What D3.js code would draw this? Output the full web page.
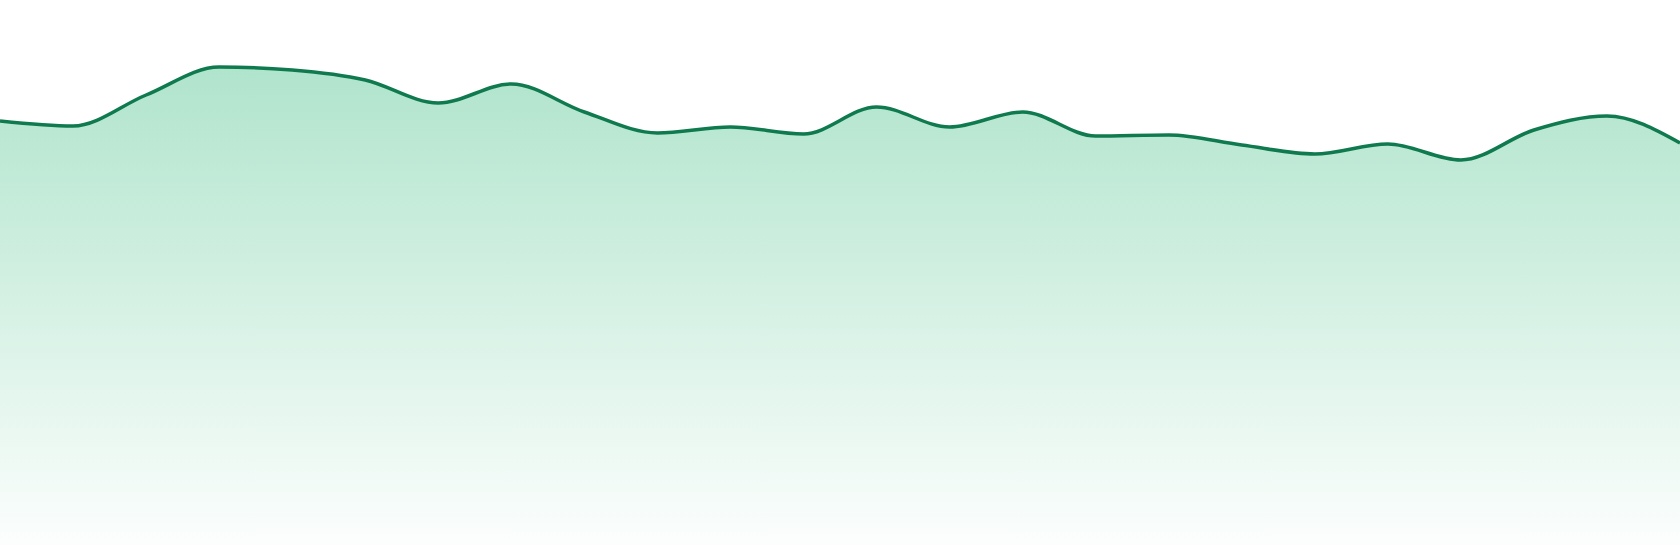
<!DOCTYPE html>
<html>
<head>
<meta charset="utf-8">
<script src="https://cdn.jsdelivr.net/npm/d3@7"></script>
<style>
  html, body { margin: 0; padding: 0; background: #fff; }
  #vis { width: 1680px; height: 560px; }
  svg { display: block; }
</style>
</head>
<body>
<div id="vis"><svg></svg></div>
<script>
// one value per period
const periods = d3.range(24)
const values = [
  424, 419, 450, 478, 475, 465, 442, 461, 433, 412, 418, 411,
  438, 418, 433, 409, 410, 400, 391, 401, 385, 415, 429, 402
]
const yDomain = [0, 500]

draw({ periods, values })

function draw({ periods, values }) {
  const parent = document.getElementById('vis')
  const svg = d3.select(parent).select('svg')

  const outerWidth = parent.clientWidth
  const outerHeight = parent.clientHeight
  const margin = { left: 0, top: 45, right: 0, bottom: 15 }
  const innerWidth = outerWidth - margin.left - margin.right
  const innerHeight = outerHeight - margin.top - margin.bottom

  svg.attr('width', outerWidth).attr('height', outerHeight)

  const data = periods.map((p, i) => ({ period: p, value: values[i] }))

  const xScale = d3
    .scaleLinear()
    .domain(d3.extent(periods))
    .range([0, innerWidth])

  const yScale = d3
    .scaleLinear()
    .domain(yDomain)
    .range([innerHeight, 0])

  const g = svg
    .append('g')
    .attr('transform', `translate(${margin.left},${margin.top})`)

  // vertical fade under the line
  const grad = svg
    .append('defs')
    .append('linearGradient')
    .attr('id', 'fade')
    .attr('gradientUnits', 'userSpaceOnUse')
    .attr('x1', 0)
    .attr('x2', 0)
    .attr('y1', yScale(d3.max(values)))
    .attr('y2', yScale(0))

  grad.append('stop').attr('offset', '0%').attr('stop-color', '#b0e4cc')
  grad.append('stop').attr('offset', '100%').attr('stop-color', '#fcfefd')

  const area = d3
    .area()
    .curve(d3.curveMonotoneX)
    .x(d => xScale(d.period))
    .y0(yScale(0))
    .y1(d => yScale(d.value))

  const line = d3
    .line()
    .curve(d3.curveMonotoneX)
    .x(d => xScale(d.period))
    .y(d => yScale(d.value))

  g.append('path')
    .datum(data)
    .attr('d', area)
    .style('fill', 'url(#fade)')

  g.append('path')
    .datum(data)
    .attr('d', line)
    .style('fill', 'none')
    .style('stroke', '#107a4f')
    .style('stroke-width', 3.5)
}
</script>
</body>
</html>
